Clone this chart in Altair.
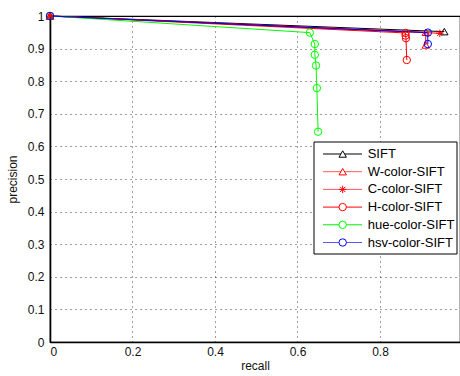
import altair as alt
import pandas as pd

series_names = ["SIFT", "W-color-SIFT", "C-color-SIFT", "H-color-SIFT", "hue-color-SIFT", "hsv-color-SIFT"]
series_colors = ["#000000", "#ff0000", "#ff0000", "#ff0000", "#00ff00", "#0000ff"]
legend_line_colors = ["#000000", "#ff5a5a", "#ff5a5a", "#ff0000", "#00ee00", "#5a5aff"]
star_path = "M0,-1L0,1M-1,0L1,0M-0.7,-0.7L0.7,0.7M-0.7,0.7L0.7,-0.7"
series_shapes = ["triangle-up", "triangle-up", star_path, "circle", "circle", "circle"]

sift_r = [0.0, 0.956]
sift_p = [1.0, 0.952]
w_r = [0.0, 0.911, 0.911]
w_p = [1.0, 0.950, 0.911]
c_r = [0.0, 0.945]
c_p = [1.0, 0.947]
h_r = [0.0, 0.862, 0.862, 0.863, 0.865]
h_p = [1.0, 0.948, 0.940, 0.932, 0.865]
hue_r = [0.0, 0.630, 0.642, 0.642, 0.645, 0.647, 0.650]
hue_p = [1.0, 0.949, 0.914, 0.881, 0.848, 0.779, 0.645]
hsv_r = [0.0, 0.916, 0.916]
hsv_p = [1.0, 0.949, 0.914]

x_ticks = [0, 0.2, 0.4, 0.6, 0.8]
y_ticks = [0, 0.1, 0.2, 0.3, 0.4, 0.5, 0.6, 0.7, 0.8, 0.9, 1.0]

all_r = [sift_r, w_r, c_r, h_r, hue_r, hsv_r]
all_p = [sift_p, w_p, c_p, h_p, hue_p, hsv_p]

rows = []
for si, (name, rr, pp) in enumerate(zip(series_names, all_r, all_p)):
    for i, (r, p) in enumerate(zip(rr, pp)):
        rows.append({"series": name, "sidx": si, "i": i, "recall": r, "precision": p})
df = pd.DataFrame(rows)

leg = pd.DataFrame({"series": series_names, "rank": list(range(len(series_names))),
                    "lcolor": legend_line_colors})

FONT = "Liberation Sans"

xscale = alt.Scale(domain=[0, 0.994], nice=False, zero=False)
yscale = alt.Scale(domain=[0, 1], nice=False, zero=False)
cscale = alt.Scale(domain=series_names, range=series_colors)
sscale = alt.Scale(domain=series_names, range=series_shapes)

xaxis = alt.Axis(values=x_ticks, format=".1~f", title="recall", grid=True, labelOverlap=False)
yaxis = alt.Axis(values=y_ticks, format=".1~f", title="precision", grid=True, labelOverlap=False)

base = alt.Chart(df)

lines = base.mark_line(strokeWidth=1, clip=False).encode(
    x=alt.X("recall:Q", scale=xscale, axis=xaxis),
    y=alt.Y("precision:Q", scale=yscale, axis=yaxis),
    color=alt.Color("series:N", scale=cscale, legend=None),
    detail="sidx:N",
    order="i:Q",
)

points = base.mark_point(filled=False, strokeWidth=1, size=55, opacity=1).encode(
    x=alt.X("recall:Q", scale=xscale, axis=xaxis),
    y=alt.Y("precision:Q", scale=yscale, axis=yaxis),
    color=alt.Color("series:N", scale=cscale, legend=None),
    shape=alt.Shape("series:N", scale=sscale, legend=None),
)

# Legend (layout in pixels)
legbox = alt.Chart(pd.DataFrame({"a": [0]})).mark_rect(
    fill="white", stroke="black", strokeWidth=1
).encode(x=alt.value(264), x2=alt.value(407), y=alt.value(126), y2=alt.value(238))

legbase = alt.Chart(leg).transform_calculate(py="138 + datum.rank * 17.7")

leglines = legbase.mark_rule(strokeWidth=1).encode(
    x=alt.value(273), x2=alt.value(312),
    y=alt.Y("py:Q", scale=None),
    color=alt.Color("lcolor:N", scale=None, legend=None),
)
legpts = legbase.mark_point(filled=False, strokeWidth=1, size=55, opacity=1, fill="white").encode(
    x=alt.value(292.7),
    y=alt.Y("py:Q", scale=None),
    color=alt.Color("series:N", scale=cscale, legend=None),
    shape=alt.Shape("series:N", scale=sscale, legend=None),
)
legtext = legbase.mark_text(align="left", baseline="middle", font=FONT, fontSize=13).encode(
    x=alt.value(317.7),
    y=alt.Y("py:Q", scale=None),
    text="series:N",
)

chart = alt.layer(lines, points, legbox, leglines, legpts, legtext).properties(
    width=410, height=326,
    background="white",
    autosize=alt.AutoSizeParams(type="none"),
    padding={"left": 50, "top": 16, "right": 0, "bottom": 34},
).configure_view(
    stroke="black", strokeWidth=1.2
).configure_axis(
    domainColor="black", domainWidth=1.6,
    ticks=False,
    gridColor="#000", gridDash=[1, 4], gridWidth=1, gridOpacity=0.75,
    labelFont=FONT, labelFontSize=12, labelColor="#111",
    titleFont=FONT, titleFontSize=12, titleFontWeight="normal", titleColor="#111",
).configure_axisX(
    labelPadding=4, titlePadding=3
).configure_axisY(
    labelPadding=6, titlePadding=8
)

chart.save("out.html", embed_options={"renderer": "svg", "actions": False})
